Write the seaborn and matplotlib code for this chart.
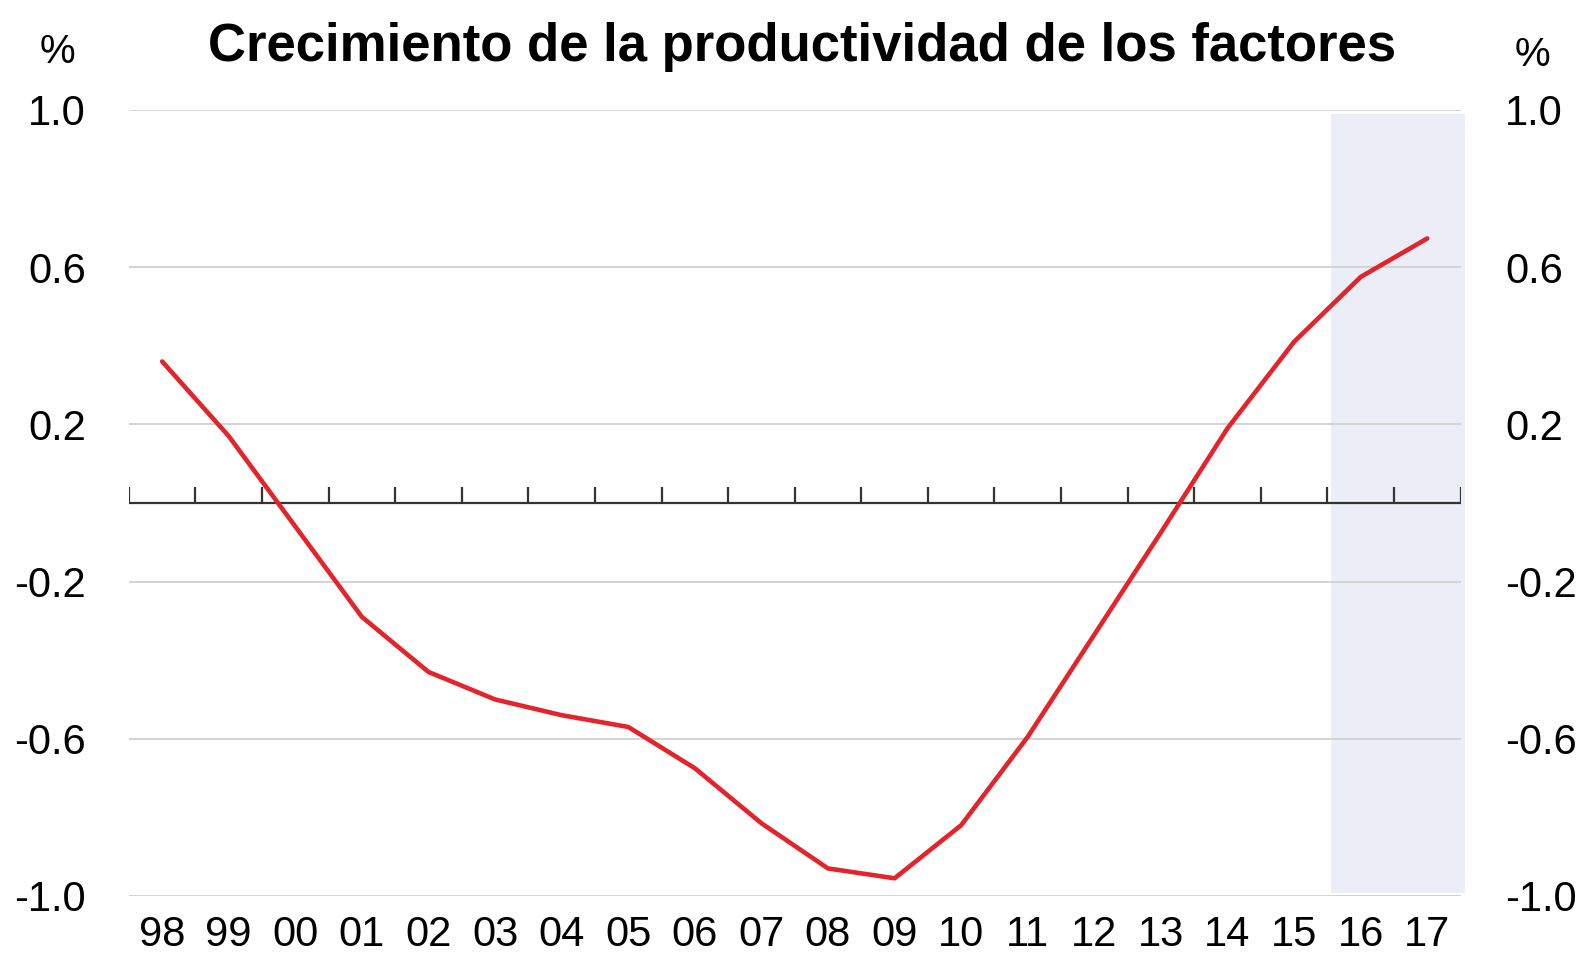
import numpy as np
import pandas as pd
import seaborn as sns
import matplotlib.pyplot as plt
from matplotlib import font_manager as fm

### datos
years = ['98', '99', '00', '01', '02', '03', '04', '05', '06', '07',
         '08', '09', '10', '11', '12', '13', '14', '15', '16', '17']
growth = [0.36, 0.17, -0.06, -0.29, -0.43, -0.50, -0.54, -0.57, -0.675, -0.815,
          -0.93, -0.955, -0.82, -0.595, -0.335, -0.075, 0.19, 0.41, 0.575, 0.673]
y_ticks = [-1.0, -0.6, -0.2, 0.2, 0.6, 1.0]
shade_from, shade_to = '16', '17'
title = 'Crecimiento de la productividad de los factores'

df = pd.DataFrame({'year': years, 'growth': growth})
df['pos'] = np.arange(len(years))

sns.set_style('white')

### fuente estrecha si existe
names = {f.name for f in fm.fontManager.ttflist}
if 'Liberation Sans Narrow' in names:
    plt.rcParams['font.family'] = ['Liberation Sans Narrow', 'DejaVu Sans']
    fs_tick, fs_title, fs_pct = 34, 46, 32
else:
    plt.rcParams['font.family'] = ['Liberation Sans', 'DejaVu Sans']
    fs_tick, fs_title, fs_pct = 30, 38, 29
plt.rcParams['text.color'] = 'black'

fig = plt.figure(figsize=(15.91, 9.66), dpi=100)
ax = fig.add_axes([0.081, 0.0725, 0.837, 0.8137])

# zona sombreada (proyección)
i0 = years.index(shade_from)
i1 = years.index(shade_to)
span = ax.axvspan(i0 - 0.45, i1 + 0.56, ymin=0.004, ymax=0.995, color='#ebeef6', lw=0, zorder=0)
span.set_clip_on(False)

for v in y_ticks:
    ax.axhline(v, color='#d3d3d3', lw=1.4, zorder=1)

# eje en cero con marcas entre años
ax.axhline(0, color='#333333', lw=1.6, zorder=2)
ax.vlines(np.arange(len(years) + 1) - 0.5, 0, 0.041, color='#333333', lw=1.6, zorder=2)

sns.lineplot(data=df, x='pos', y='growth', color='#e3242b', lw=3.3, ax=ax, zorder=3)
ax.lines[-1].set_solid_capstyle('round')
ax.lines[-1].set_solid_joinstyle('round')

ax.set_xlim(-0.5, len(years) - 0.5)
ax.set_ylim(-1.0, 1.0)
ax.set_xticks(df['pos'])
ax.set_xticklabels(years)
ax.set_yticks(y_ticks)
ax.set_yticklabels([f'{v:.1f}' for v in y_ticks])
ax.tick_params(axis='both', length=0, labelsize=fs_tick, colors='black')
ax.tick_params(axis='x', pad=14)
ax.tick_params(axis='y', pad=31)
ax.set_xlabel('')
ax.set_ylabel('')
for s in ax.spines.values():
    s.set_visible(False)

ax2 = ax.twinx()
ax2.set_ylim(ax.get_ylim())
ax2.set_yticks(y_ticks)
ax2.set_yticklabels([f'{v:.1f}' for v in y_ticks])
ax2.tick_params(axis='y', length=0, labelsize=fs_tick, pad=32, colors='black')
for s in ax2.spines.values():
    s.set_visible(False)

fig.text(0.036, 0.935, '%', fontsize=fs_pct, ha='center', va='baseline', color='black')
fig.text(0.9635, 0.932, '%', fontsize=fs_pct, ha='center', va='baseline', color='black')
fig.text(0.504, 0.937, title, fontsize=fs_title, fontweight='bold',
         ha='center', va='baseline', color='black')

fig.savefig('out.png', dpi=100)
